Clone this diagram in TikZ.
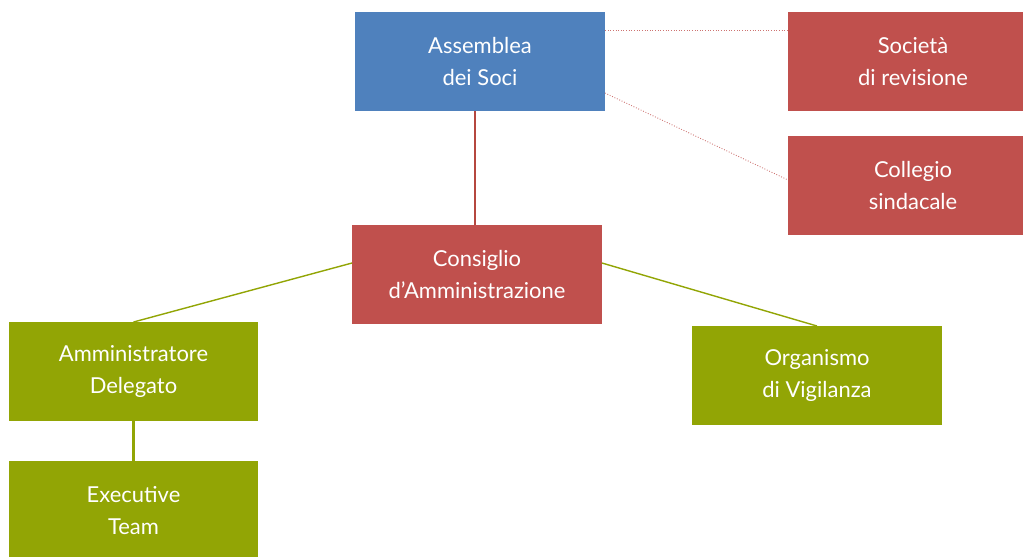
\documentclass[tikz,border=0pt]{standalone}
\usepackage{fontspec}
\setmainfont{Lato}
\definecolor{socblue}{HTML}{4F81BD}
\definecolor{orgred}{HTML}{C0504D}
\definecolor{opgreen}{HTML}{92A505}
\definecolor{linered}{HTML}{B5473F}

\begin{document}
\begin{tikzpicture}[x=0.02cm, y=-0.02cm,
    orgbox/.style={minimum width=5cm, minimum height=1.98cm, inner sep=2pt, outer sep=0pt,
      text=white, align=center, font=\fontsize{12.5}{18.5}\selectfont},
    redlink/.style={draw=linered, line width=0.6pt},
    dotlink/.style={draw=orgred!80, line width=0.5pt, densely dotted},
    greenlink/.style={draw=opgreen, line width=0.8pt}]
  \useasboundingbox (0,0) rectangle (1023,556);
  % top level
  \node[orgbox, fill=socblue] (assemblea) at (480,61.5) {Assemblea\\dei Soci};
  \node[orgbox, fill=orgred] (societa) at (913,61.5) {Società\\di revisione};
  \node[orgbox, fill=orgred] (collegio) at (913,185.5) {Collegio\\sindacale};
  % board
  \node[orgbox, fill=orgred] (consiglio) at (477,274.5) {Consiglio\\d’Amministrazione};
  \node[orgbox, fill=opgreen] (amministratore) at (133.5,371.5) {Amministratore\\Delegato};
  \node[orgbox, fill=opgreen] (organismo) at (817,375.5) {Organismo\\di Vigilanza};
  \node[orgbox, fill=opgreen] (executive) at (133.5,510.5) {Executive\\Team};

  \draw[redlink] ([xshift=-0.04cm]consiglio.north) -- ([xshift=-0.04cm]consiglio.north |- assemblea.south);
  \draw[dotlink] ([yshift=-0.36cm]assemblea.north east) -- ([yshift=-0.36cm]societa.north west);
  \draw[dotlink] ([yshift=-1.62cm]assemblea.north east) -- ([yshift=-0.88cm]collegio.north west);
  \draw[greenlink] ([yshift=-0.76cm]consiglio.north west) -- (amministratore.north);
  \draw[greenlink] ([yshift=-0.76cm]consiglio.north east) -- (organismo.north);
  \draw[greenlink, line width=1.2pt] (amministratore.south) -- (executive.north);
\end{tikzpicture}
\end{document}
